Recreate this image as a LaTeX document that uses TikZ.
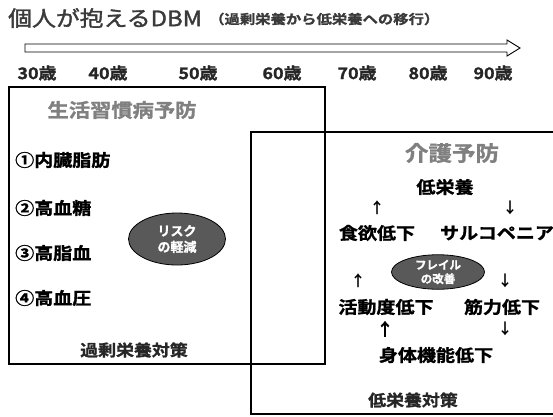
\documentclass[tikz,border=0pt]{standalone}
\usepackage{fontspec}
\usepackage{graphicx}
\usetikzlibrary{shapes.geometric}
\newfontfamily\jp{Noto Sans CJK JP}[BoldFont={* Bold}]
\newfontfamily\jpm{Noto Sans CJK JP}[FakeBold=1.5]
\newfontfamily\jpb{Noto Sans CJK JP Bold}[FakeBold=1.2]
\definecolor{ovalgray}{HTML}{595959}
\definecolor{headgray}{HTML}{808080}
\definecolor{titlegray}{HTML}{3A3A3A}
\newcommand\hs[1]{\scalebox{1.12}[1]{#1}}
\begin{document}
\begin{tikzpicture}[x=1pt,y=-1pt,
  lbl/.style={font=\jpb\fontsize{17}{17}\selectfont, inner sep=0pt},
  age/.style={font=\jpb\fontsize{16}{16}\selectfont, inner sep=0pt, text=black!85},
  head/.style={font=\jpb\fontsize{19}{19}\selectfont, inner sep=0pt, text=headgray},
  foot/.style={font=\jpb\fontsize{16}{16}\selectfont, inner sep=0pt, text=black!85},
  arr/.style={font=\jp\bfseries\fontsize{15}{15}\selectfont, inner sep=0pt},
  oval/.style={ellipse, draw=black, line width=0.8pt, fill=ovalgray, text=white, inner sep=0pt,
    font=\jpb\fontsize{13}{16}\selectfont, align=center},
  frame/.style={draw=black, line width=1.6pt}]
\useasboundingbox (0,0) rectangle (553,416);
% title
\node[anchor=west, inner sep=0pt, text=titlegray, font=\jpm\fontsize{21.3}{22}\selectfont] (title) at (8,18) {\hs{個人が抱えるDBM}};
\node[anchor=west, inner sep=0pt, text=titlegray, font=\jpb\fontsize{13}{13}\selectfont] (sub) at (209,19) {\scalebox{1.18}[1]{（過剰栄養から低栄養への移行）}};
% time arrow
\draw[line width=0.9pt, fill=white] (25,44) -- (507,44) -- (507,40) -- (520,48) -- (507,56) -- (507,52) -- (25,52) -- cycle;
% ages
\node[age] (a30) at (37,73) {\hs{30歳}};
\node[age] (a40) at (108,73) {\hs{40歳}};
\node[age] (a50) at (198,73) {\hs{50歳}};
\node[age] (a60) at (282,73) {\hs{60歳}};
\node[age] (a70) at (357,73) {\hs{70歳}};
\node[age] (a80) at (428,73) {\hs{80歳}};
\node[age] (a90) at (493,73) {\hs{90歳}};
% frames
\draw[frame] (9,87) rectangle (325,364);
\draw[frame] (553,132) -- (251,132) -- (251,414) -- (553,414);
% left box
\node[head] (lh) at (122,110) {\hs{生活習慣病予防}};
\node[lbl, anchor=west] (l1) at (15,160) {\hs{①内臓脂肪}};
\node[lbl, anchor=west] (l2) at (15,208) {\hs{②高血糖}};
\node[lbl, anchor=west] (l3) at (15,253) {\hs{③高脂血}};
\node[lbl, anchor=west] (l4) at (15,298) {\hs{④高血圧}};
\node[oval, minimum width=97, minimum height=52] (risk) at (177,239) {リスク\\の軽減};
\node[foot] (lf) at (134,350) {\hs{過剰栄養対策}};
% right box
\node[head, font=\jpb\fontsize{21}{21}\selectfont] (rh) at (452,153) {\hs{介護予防}};
\node[lbl] (low) at (445,187) {\hs{低栄養}};
\node[arr] (u1) at (377,208) {↑};
\node[arr] (d1) at (510,208) {↓};
\node[lbl] (app) at (377,233) {\hs{食欲低下}};
\node[lbl] (sarc) at (497,233) {\hs{サルコペニア}};
\node[oval, minimum width=93, minimum height=32, font=\jpb\fontsize{11.5}{14}\selectfont] (frail) at (438,272) {フレイル\\の改善};
\node[arr] (u2) at (358,281) {↑};
\node[arr] (d2) at (505,281) {↓};
\node[lbl] (act) at (386,307) {\hs{活動度低下}};
\node[lbl] (mus) at (502,307) {\hs{筋力低下}};
\node[arr, font=\jpb\fontsize{17}{17}\selectfont] (u3) at (385,329) {↑};
\node[arr] (d3) at (505,329) {↓};
\node[lbl] (body) at (436,355) {\hs{身体機能低下}};
\node[foot] (rf) at (413,400) {\hs{低栄養対策}};
\end{tikzpicture}
\end{document}
